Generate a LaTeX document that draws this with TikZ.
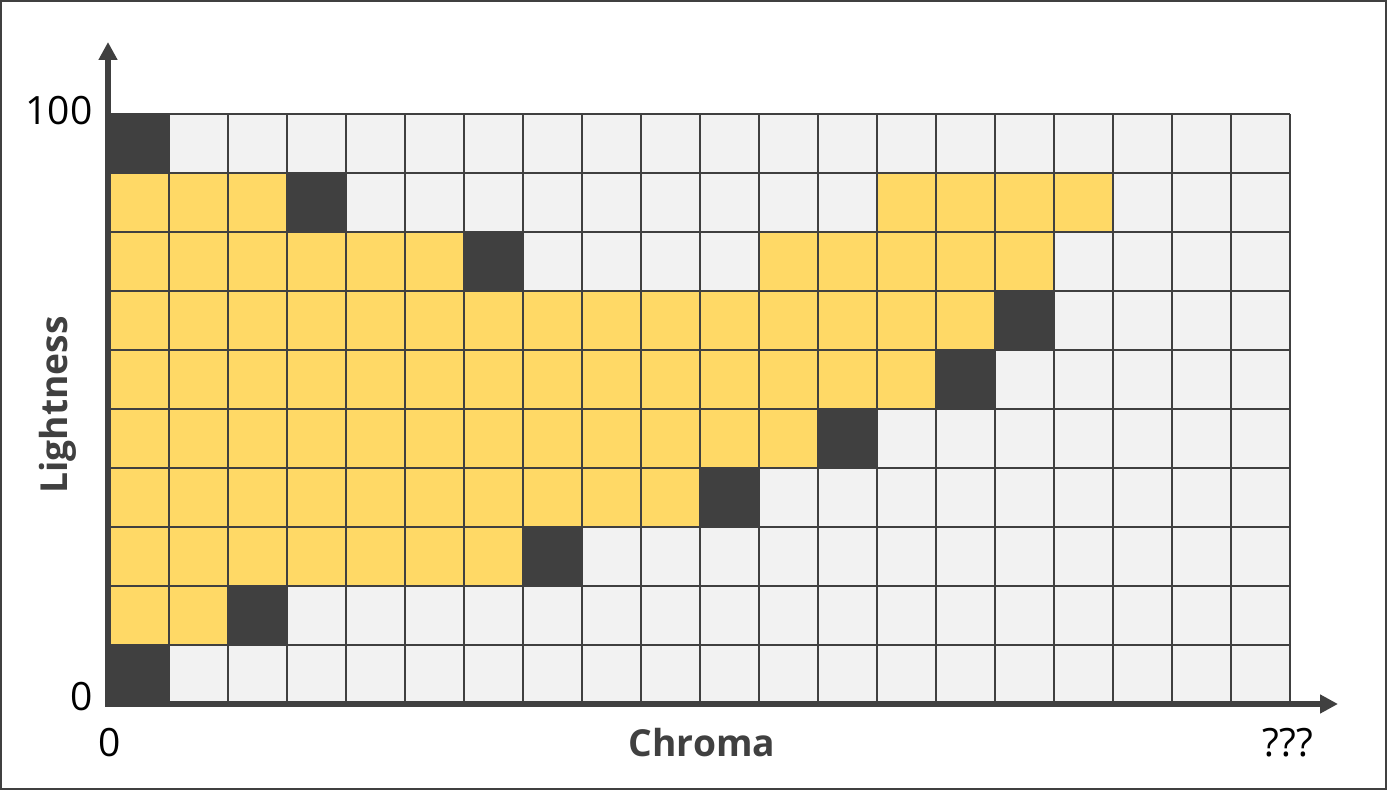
\documentclass[tikz,border=0pt]{standalone}
\usepackage{fontspec}
\setmainfont{Noto Sans}
\newfontfamily\lblfont{Open Sans}
\usetikzlibrary{arrows.meta}
\definecolor{dk}{HTML}{404040}
\definecolor{lt}{HTML}{F2F2F2}
\definecolor{yl}{HTML}{FFD966}
\begin{document}
\begin{tikzpicture}[x=0.5pt,y=-0.5pt,
  gridline/.style={dk,line width=1pt},
  axisline/.style={dk,line width=3pt,line join=miter,{Triangle[length=9pt,width=9pt]}-{Triangle[length=9pt,width=9pt]}},
  numlabel/.style={text=black,font=\lblfont\fontsize{19.5}{21}\selectfont,inner sep=0pt},
  axislabel/.style={text=dk,font=\lblfont\bfseries\fontsize{18.6}{22}\selectfont,inner sep=0pt}]
\useasboundingbox (0,0) rectangle (1387,790);
\draw[dk,line width=1pt] (1,1) rectangle (1386,789);
% background cells
\fill[lt] (110,114) rectangle (1290,704);
% yellow runs: row/first col/last col
\foreach \r/\a/\b in {1/0/2,1/13/16,2/0/5,2/11/15,3/0/14,4/0/13,5/0/11,6/0/9,7/0/6,8/0/1}
  \fill[yl] ({110+59*\a},{114+59*\r}) rectangle ({110+59*(\b+1)},{114+59*(\r+1)});
% dark cells: row/col
\foreach \r/\c in {0/0,1/3,2/6,3/15,4/14,5/12,6/10,7/7,8/2,9/0}
  \fill[dk] ({110+59*\c},{114+59*\r}) rectangle ({110+59*(\c+1)},{114+59*(\r+1)});
% grid lines
\foreach \i in {0,...,20}
  \draw[gridline] ({110+59*\i},114) -- ({110+59*\i},704);
\foreach \j in {0,...,10}
  \draw[gridline] (110,{114+59*\j}) -- (1290,{114+59*\j});
% axes
\coordinate (O) at (108,704);
\coordinate (ytip) at (108,42);
\coordinate (xtip) at (1338,704);
\draw[axisline] (ytip) -- (O) -- (xtip);
% labels
\node[numlabel] (l100) at (59,111) {100};
\node[numlabel] (l0y) at (82,697) {0};
\node[numlabel] (l0x) at (110,743) {0};
\node[numlabel] (lq) at (1288,743) {???};
\node[axislabel] (lc) at (702,743) {Chroma};
\node[axislabel,rotate=90] (ll) at (58,405) {Lightness};
\end{tikzpicture}
\end{document}
